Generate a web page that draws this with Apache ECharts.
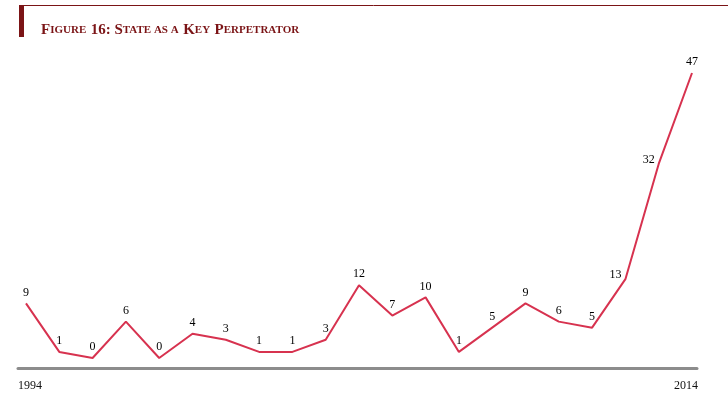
<!DOCTYPE html>
<html>
<head>
<meta charset="utf-8">
<script src="https://cdn.jsdelivr.net/npm/echarts@6/dist/echarts.min.js"></script>
<style>html,body{margin:0;padding:0;background:#fff}#c{width:728px;height:395px}</style>
</head>
<body>
<div id="c"></div>
<script>
var years = [1994,1995,1996,1997,1998,1999,2000,2001,2002,2003,2004,2005,2006,2007,2008,2009,2010,2011,2012,2013,2014];
var values = [9,1,0,6,0,4,3,1,1,3,12,7,10,1,5,9,6,5,13,32,47];
var tickLabels = [1994, 2014];
var titleText = '{b|F}{s|IGURE} {b|16: S}{s|TATE AS A} {b|K}{s|EY} {b|P}{s|ERPETRATOR}';

var leftLabelYears = {2012: true, 2013: true};
var seriesData = years.map(function (y, i) {
  var item = { value: [y, values[i]] };
  if (leftLabelYears[y]) {
    item.label = { position: 'left', distance: 4, offset: [0, -4] };
  }
  return item;
});

var chart = echarts.init(document.getElementById('c'), null, {renderer: 'canvas'});
var red = '#7b1416';
chart.setOption({
  animation: false,
  backgroundColor: '#fff',
  title: {
    text: titleText,
    left: 36,
    top: 16,
    textStyle: {
      fontFamily: 'Liberation Serif',
      fontWeight: 'bold',
      color: red,
      rich: {
        b: { fontSize: 15, fontWeight: 'bold', color: red, fontFamily: 'Liberation Serif' },
        s: { fontSize: 11, fontWeight: 'bold', color: red, fontFamily: 'Liberation Serif' }
      }
    }
  },
  graphic: [
    { type: 'line', shape: { x1: 19, y1: 5.5, x2: 728, y2: 5.5 }, style: { stroke: red, lineWidth: 1 } },
    { type: 'rect', shape: { x: 19, y: 5, width: 5, height: 32 }, style: { fill: red } }
  ],
  grid: { left: 18, right: 31, top: 73, bottom: 27, containLabel: false },
  xAxis: {
    type: 'value',
    min: 1993.76,
    max: 2014.15,
    splitLine: { show: false },
    axisTick: { show: false },
    axisLine: { show: true, onZero: false, lineStyle: { color: '#8c8c8c', width: 3 } },
    axisLabel: {
      customValues: tickLabels,
      showMinLabel: true,
      showMaxLabel: true,
      margin: 12,
      color: '#111',
      fontFamily: 'Liberation Serif',
      fontSize: 12,
      formatter: function (v) { return v === tickLabels[0] ? '{l|' + v + '}' : '{r|' + v + '}'; },
      rich: {
        l: { padding: [0, 0, 0, 8], fontFamily: 'Liberation Serif', fontSize: 12, color: '#111' },
        r: { padding: [0, 12, 0, 0], fontFamily: 'Liberation Serif', fontSize: 12, color: '#111' }
      }
    }
  },
  yAxis: {
    type: 'value',
    min: -1.65,
    max: 47,
    show: false,
    splitLine: { show: false }
  },
  series: [{
    type: 'line',
    data: seriesData,
    symbol: 'circle',
    symbolSize: 0,
    showSymbol: true,
    lineStyle: { color: '#d7324f', width: 2 },
    itemStyle: { color: '#d7324f' },
    label: {
      show: true,
      position: 'top',
      distance: 5,
      color: '#000',
      fontFamily: 'Liberation Serif',
      fontSize: 12,
      formatter: function (p) { return p.value[1]; }
    }
  }]
});
</script>
</body>
</html>
